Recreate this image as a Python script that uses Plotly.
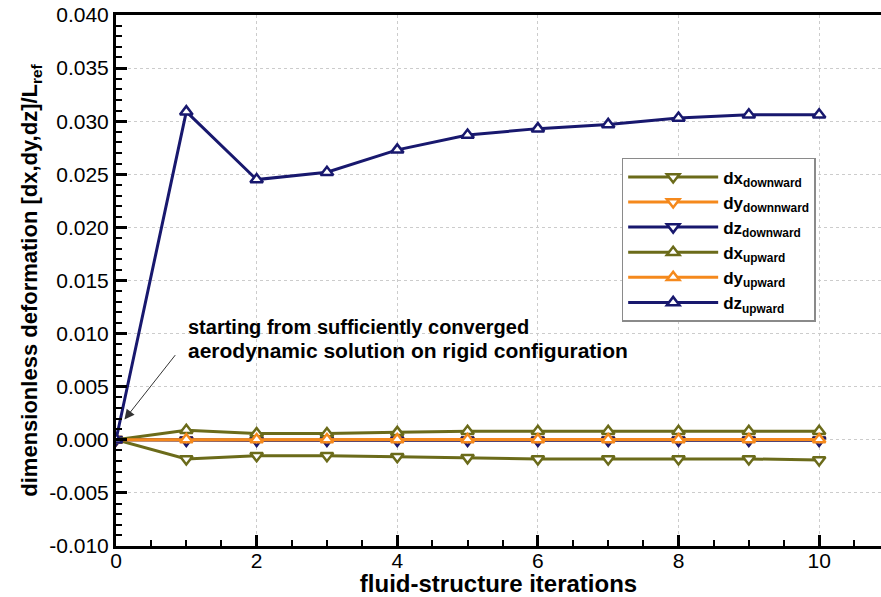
import plotly.graph_objects as go

iterations = [0, 1, 2, 3, 4, 5, 6, 7, 8, 9, 10]

dx_downward = [0.0, -0.0018, -0.0015, -0.0015, -0.0016, -0.0017, -0.0018, -0.0018, -0.0018, -0.0018, -0.0019]
dy_downward = [0.0, -0.00002, -0.00002, -0.00002, -0.00002, -0.00002, -0.00002, -0.00002, -0.00002, -0.00002, -0.00002]
dz_downward = [0.0, -0.00005, -0.00005, -0.00005, -0.00005, -0.00005, -0.00005, -0.00005, -0.00005, -0.00005, -0.00005]
dx_upward = [0.0, 0.0009, 0.0006, 0.0006, 0.0007, 0.0008, 0.0008, 0.0008, 0.0008, 0.0008, 0.0008]
dy_upward = [0.0, 0.00002, 0.00002, 0.00002, 0.00002, 0.00002, 0.00002, 0.00002, 0.00002, 0.00002, 0.00002]
dz_upward = [0.0, 0.0309, 0.0245, 0.0252, 0.0273, 0.0287, 0.0293, 0.0297, 0.0303, 0.0306, 0.0306]

series_names = [
    "dx<sub>downward</sub>", "dy<sub>downnward</sub>", "dz<sub>downward</sub>",
    "dx<sub>upward</sub>", "dy<sub>upward</sub>", "dz<sub>upward</sub>",
]
series_values = [dx_downward, dy_downward, dz_downward, dx_upward, dy_upward, dz_upward]
series_colors = ["#6b6b1a", "#f5891c", "#18186e", "#6b6b1a", "#f5891c", "#18186e"]
series_symbols = ["triangle-down", "triangle-down", "triangle-down", "triangle-up", "triangle-up", "triangle-up"]

y_tickvals = [-0.010, -0.005, 0.000, 0.005, 0.010, 0.015, 0.020, 0.025, 0.030, 0.035, 0.040]
y_ticktext = ["-0.010", "-0.005", "0.000", "0.005", "0.010", "0.015", "0.020", "0.025", "0.030", "0.035", "0.040"]
x_tickvals = [0, 2, 4, 6, 8, 10]
x_ticktext = ["0", "2", "4", "6", "8", "10"]

annotation_line1 = "starting from sufficiently converged"
annotation_line2 = "aerodynamic solution on rigid configuration"

fig = go.Figure()
for i in range(6):
    fig.add_trace(go.Scatter(
        x=iterations, y=series_values[i], name="<b>" + series_names[i] + "</b>",
        mode="lines+markers",
        line=dict(color=series_colors[i], width=3),
        marker=dict(symbol=series_symbols[i], size=11, color="white",
                    line=dict(color=series_colors[i], width=2.5)),
        legendrank=i + 1,
    ))

fig.update_layout(
    width=881, height=597,
    margin=dict(l=116, r=0, t=15, b=51),
    paper_bgcolor="white", plot_bgcolor="white",
    font=dict(family="Liberation Sans, Arial, sans-serif", color="black"),
    showlegend=True,
    legend=dict(
        x=0.661, y=0.731, xanchor="left", yanchor="top",
        bgcolor="white", bordercolor="#8a8a8a", borderwidth=1.5,
        font=dict(size=17, family="Liberation Sans, Arial, sans-serif"),
        tracegroupgap=0, itemwidth=90,
    ),
    xaxis=dict(
        range=[0, 10.88], automargin=False,
        tickmode="array", tickvals=x_tickvals, ticktext=x_ticktext,
        ticks="inside", ticklen=11, tickwidth=2.5, tickcolor="black",
        ticklabelstandoff=-6,
        minor=dict(dtick=0.5, ticks="inside", ticklen=6, tickwidth=1.5, tickcolor="black", showgrid=False),
        showline=True, linecolor="black", linewidth=3, mirror=True,
        showgrid=True, gridcolor="#cccccc", griddash="dot", gridwidth=1,
        zeroline=False,
        tickfont=dict(size=21),
        title=dict(text="<b>fluid-structure iterations</b>", standoff=0,
                   font=dict(size=24)),
    ),
    yaxis=dict(
        range=[-0.010, 0.040], automargin=False,
        tickmode="array", tickvals=y_tickvals, ticktext=y_ticktext,
        ticks="inside", ticklen=11, tickwidth=2.5, tickcolor="black",
        minor=dict(dtick=0.001, ticks="inside", ticklen=6, tickwidth=1.5, tickcolor="black", showgrid=False),
        showline=True, linecolor="black", linewidth=3, mirror=False,
        showgrid=True, gridcolor="#cccccc", griddash="dot", gridwidth=1,
        zeroline=False,
        tickfont=dict(size=21),
        title=dict(text="<b>dimensionless deformation [dx,dy,dz]/L<sub>ref</sub></b>", standoff=6,
                   font=dict(size=22)),
    ),
)

fig.add_annotation(
    x=1.0, y=0.0106, xref="x", yref="y", text="<b>" + annotation_line1 + "</b>",
    showarrow=False, xanchor="left", yanchor="middle", align="left",
    font=dict(size=20, color="black"),
)
fig.add_annotation(
    x=1.0, y=0.0084, xref="x", yref="y", text="<b>" + annotation_line2 + "</b>",
    showarrow=False, xanchor="left", yanchor="middle", align="left",
    font=dict(size=21, color="black"),
)
fig.add_annotation(
    x=0.12, y=0.0019, xref="x", yref="y", text="",
    showarrow=True, ax=52, ay=-66, arrowhead=2, arrowsize=2, arrowwidth=1,
    arrowcolor="#333333",
)

fig.write_html("out.html")
